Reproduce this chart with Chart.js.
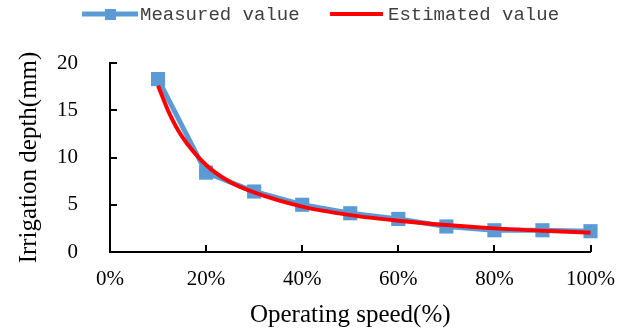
<!DOCTYPE html>
<html>
<head>
<meta charset="utf-8">
<script src="https://cdn.jsdelivr.net/npm/chart.js@4"></script>
<style>
  html, body { margin: 0; padding: 0; background: #fff; }
  #wrap { width: 630px; height: 334px; }
</style>
</head>
<body>
<div id="wrap"><canvas id="c" width="630" height="334"></canvas></div>
<script>
// Operating speed as a fraction of full speed
const speeds = [0.1, 0.2, 0.3, 0.4, 0.5, 0.6, 0.7, 0.8, 0.9, 1.0];
// Irrigation depth (mm), measured at each speed
const measuredDepth = [18.3, 8.4, 6.4, 5.0, 4.1, 3.5, 2.7, 2.3, 2.3, 2.2];
// Fitted curve, sampled more densely where it bends sharply
const estimatedSpeeds = [0.1, 0.125, 0.15, 0.2, 0.25, 0.3, 0.4, 0.5, 0.6, 0.7, 0.8, 0.9, 1.0];
const estimatedDepth = [17.6, 14.5, 12.2, 9.2, 7.4, 6.3, 4.8, 3.9, 3.3, 2.85, 2.5, 2.25, 2.05];
const seriesNames = ['Measured value', 'Estimated value'];
const xTickLabels = ['0%', '20%', '40%', '60%', '80%', '100%'];
const yTicks = [0, 5, 10, 15, 20];

const BLUE = '#5B9BD5';
const RED = '#FF0000';
const SERIF = '"Liberation Serif", "Times New Roman", serif';
const MONO = '"Liberation Mono", "DejaVu Sans Mono", monospace';

const toPoints = (xs, ys) => xs.map((x, i) => ({ x: x, y: ys[i] }));

// Excel-style tick marks pointing into the plot area
const innerTicks = {
  id: 'innerTicks',
  beforeDatasetsDraw(chart) {
    const { ctx, scales: { x, y } } = chart;
    ctx.save();
    ctx.strokeStyle = '#000';
    ctx.lineWidth = 2;
    ctx.beginPath();
    yTicks.forEach(v => {
      const py = Math.round(y.getPixelForValue(v));
      ctx.moveTo(x.left, py);
      ctx.lineTo(x.left + 7, py);
    });
    xTickLabels.forEach((_, i) => {
      if (i === 0) return;
      const px = Math.round(x.getPixelForValue(i * 0.2));
      ctx.moveTo(px, y.bottom);
      ctx.lineTo(px, y.bottom - 7);
    });
    ctx.stroke();
    ctx.restore();
  }
};

// Legend row above the plot: line sample (with marker) followed by the series name
const topLegend = {
  id: 'topLegend',
  afterDraw(chart) {
    const { ctx } = chart;
    const ly = 14;
    ctx.save();
    ctx.font = '19px ' + MONO;
    ctx.textBaseline = 'middle';

    // Measured value
    ctx.strokeStyle = BLUE;
    ctx.lineWidth = 5;
    ctx.beginPath();
    ctx.moveTo(82, ly);
    ctx.lineTo(138, ly);
    ctx.stroke();
    ctx.fillStyle = BLUE;
    ctx.fillRect(105, ly - 5, 11, 11);
    ctx.fillStyle = '#404040';
    ctx.fillText(seriesNames[0], 140, ly + 1);

    // Estimated value
    ctx.strokeStyle = RED;
    ctx.lineWidth = 4;
    ctx.beginPath();
    ctx.moveTo(330, ly);
    ctx.lineTo(383, ly);
    ctx.stroke();
    ctx.fillText(seriesNames[1], 388, ly + 1);
    ctx.restore();
  }
};

new Chart(document.getElementById('c'), {
  type: 'scatter',
  data: {
    datasets: [
      {
        label: seriesNames[0],
        data: toPoints(speeds, measuredDepth),
        showLine: true,
        borderColor: BLUE,
        backgroundColor: BLUE,
        borderWidth: 5,
        pointStyle: 'rect',
        pointRadius: 10,
        pointBorderWidth: 0,
        tension: 0,
        clip: false,
        order: 2
      },
      {
        label: seriesNames[1],
        data: toPoints(estimatedSpeeds, estimatedDepth),
        showLine: true,
        borderColor: RED,
        backgroundColor: RED,
        borderWidth: 4,
        pointRadius: 0,
        cubicInterpolationMode: 'monotone',
        clip: false,
        order: 1
      }
    ]
  },
  options: {
    responsive: false,
    animation: false,
    layout: { padding: { left: 0, right: 39, top: 63, bottom: 0 } },
    plugins: {
      legend: { display: false },
      tooltip: { enabled: false }
    },
    scales: {
      x: {
        type: 'linear',
        min: 0,
        max: 1,
        afterFit(scale) { scale.height = 82; },
        afterBuildTicks(scale) {
          scale.ticks = xTickLabels.map((_, i) => ({ value: i * 0.2 }));
        },
        ticks: {
          callback: (v, i) => xTickLabels[i],
          color: '#000',
          padding: 15,
          maxRotation: 0,
          font: { family: SERIF, size: 21 }
        },
        grid: { display: true, drawOnChartArea: false, drawTicks: false },
        border: { color: '#000', width: 2 },
        title: {
          display: true,
          text: 'Operating speed(%)',
          color: '#000',
          font: { family: SERIF, size: 25 },
          padding: { top: 0, bottom: 4 }
        }
      },
      y: {
        min: 0,
        max: 20,
        afterFit(scale) { scale.width = 110; },
        afterBuildTicks(scale) {
          scale.ticks = yTicks.map(v => ({ value: v }));
        },
        ticks: {
          color: '#000',
          padding: 32,
          font: { family: SERIF, size: 21 }
        },
        grid: { display: true, drawOnChartArea: false, drawTicks: false },
        border: { color: '#000', width: 2 },
        title: {
          display: true,
          text: 'Irrigation depth(mm)',
          color: '#000',
          font: { family: SERIF, size: 25 },
          padding: { top: 14, bottom: 0 }
        }
      }
    }
  },
  plugins: [innerTicks, topLegend]
});
</script>
</body>
</html>
